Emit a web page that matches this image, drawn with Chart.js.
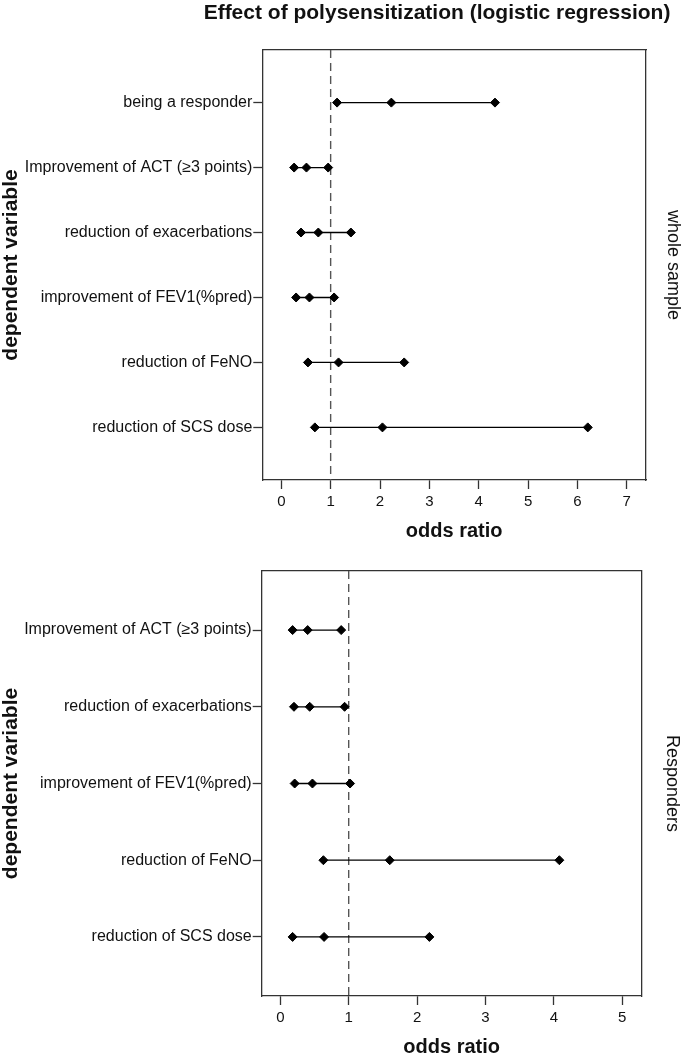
<!DOCTYPE html>
<html>
<head>
<meta charset="utf-8">
<script src="https://cdn.jsdelivr.net/npm/chart.js@4.4.1/dist/chart.umd.min.js"></script>
<style>
  body { margin: 0; background: #fff; overflow: hidden; }
  canvas { display: block; }
</style>
</head>
<body>
<canvas id="wholeChart" width="685" height="550"></canvas>
<canvas id="respChart" width="685" height="506"></canvas>
<script>
/* Effect of polysensitization - forest plots (odds ratio with 95% CI) */

// whole sample
const wholeLabels = [
    'being a responder',
    'Improvement of ACT (\u22653 points)',
    'reduction of exacerbations',
    'improvement of FEV1(%pred)',
    'reduction of FeNO',
    'reduction of SCS dose'
];
const wholeLower = [1.13, 0.26, 0.40, 0.30, 0.54, 0.68];
const wholeOR    = [2.23, 0.51, 0.75, 0.57, 1.16, 2.05];
const wholeUpper = [4.33, 0.95, 1.41, 1.07, 2.49, 6.21];
const wholeTicks = [0, 1, 2, 3, 4, 5, 6, 7];

// responders
const respLabels = [
    'Improvement of ACT (\u22653 points)',
    'reduction of exacerbations',
    'improvement of FEV1(%pred)',
    'reduction of FeNO',
    'reduction of SCS dose'
];
const respLower = [0.18, 0.20, 0.21, 0.63, 0.18];
const respOR    = [0.40, 0.43, 0.47, 1.60, 0.64];
const respUpper = [0.89, 0.94, 1.02, 4.08, 2.18];
const respTicks = [0, 1, 2, 3, 4, 5];

const FONT = "'Liberation Sans', Arial, sans-serif";
const INK = '#111';
const FRAME = '#333';

Chart.defaults.font.family = FONT;
Chart.defaults.color = INK;

// main heading, drawn on the top canvas
const headerPlugin = {
    id: 'header',
    afterDraw(chart, args, opts) {
        if (!opts.text) return;
        const ctx = chart.ctx;
        ctx.save();
        ctx.font = 'bold 21px ' + FONT;
        ctx.fillStyle = INK;
        ctx.textAlign = 'center';
        ctx.textBaseline = 'middle';
        ctx.fillText(opts.text, opts.x, opts.y);
        ctx.restore();
    }
};

/**
 * Draws one forest plot
 * @param {string} canvasId
 * @param {Object} cfg - data and frame geometry
 */
function drawForest(canvasId, cfg) {
    const ctx = document.getElementById(canvasId).getContext('2d');
    const n = cfg.labels.length;
    const yMin = -cfg.yPad;
    const yMax = n - 1 + cfg.yPad;
    const frameBorder = { display: true, color: FRAME, width: 1.3 };

    let datasets = cfg.labels.map((label, i) => ({
        label: label,
        data: [
            { x: cfg.lower[i], y: i },
            { x: cfg.or[i], y: i },
            { x: cfg.upper[i], y: i }
        ],
        showLine: true,
        borderColor: '#000',
        borderWidth: 1.3,
        pointStyle: 'rectRot',
        pointRadius: 4.5,
        pointBackgroundColor: '#000',
        pointBorderColor: '#000',
        pointBorderWidth: 1
    }));

    // reference line at OR = 1
    datasets.push({
        label: 'OR = 1',
        data: [{ x: 1, y: yMin }, { x: 1, y: yMax }],
        showLine: true,
        borderColor: '#555',
        borderWidth: 1.4,
        borderDash: [8, 5],
        pointRadius: 0
    });

    return new Chart(ctx, {
        type: 'scatter',
        data: { datasets },
        plugins: [headerPlugin],
        options: {
            responsive: false,
            animation: false,
            events: [],
            layout: { padding: { top: cfg.padTop, left: 0, right: 0, bottom: 0 } },
            plugins: {
                legend: { display: false },
                tooltip: { enabled: false },
                header: cfg.header || {}
            },
            scales: {
                x: {
                    type: 'linear',
                    min: cfg.xMin,
                    max: cfg.xMax,
                    afterBuildTicks: axis => { axis.ticks = cfg.ticks.map(v => ({ value: v })); },
                    afterFit: axis => { axis.height = cfg.bottomHeight; },
                    border: frameBorder,
                    grid: { drawOnChartArea: false, drawTicks: true, tickLength: 9, tickColor: FRAME, tickWidth: 1.3 },
                    ticks: { color: INK, font: { size: 15 }, padding: 3.5, maxRotation: 0, autoSkip: false },
                    title: {
                        display: true,
                        text: 'odds ratio',
                        color: INK,
                        font: { size: 20, weight: 'bold', lineHeight: cfg.xTitleLine },
                        padding: { top: 0, bottom: cfg.xTitlePad }
                    }
                },
                xTop: {
                    type: 'linear',
                    position: 'top',
                    min: cfg.xMin,
                    max: cfg.xMax,
                    afterFit: axis => { axis.height = 0; },
                    border: frameBorder,
                    grid: { drawOnChartArea: false, drawTicks: false },
                    ticks: { display: false }
                },
                y: {
                    type: 'linear',
                    reverse: true,
                    min: yMin,
                    max: yMax,
                    afterBuildTicks: axis => { axis.ticks = cfg.labels.map((_, i) => ({ value: i })); },
                    afterFit: axis => { axis.width = cfg.leftWidth; },
                    border: frameBorder,
                    grid: { drawOnChartArea: false, drawTicks: true, tickLength: 9, tickColor: FRAME, tickWidth: 1.3 },
                    ticks: {
                        color: INK,
                        font: { size: 16 },
                        padding: 1,
                        autoSkip: false,
                        callback: v => cfg.labels[v]
                    },
                    title: {
                        display: true,
                        text: 'dependent variable',
                        color: INK,
                        font: { size: 21, weight: 'bold', lineHeight: '20px' },
                        padding: { top: 1, bottom: 0 }
                    }
                },
                ySide: {
                    type: 'linear',
                    position: 'right',
                    reverse: true,
                    min: yMin,
                    max: yMax,
                    afterFit: axis => { axis.width = cfg.rightWidth; },
                    border: frameBorder,
                    grid: { drawOnChartArea: false, drawTicks: false },
                    ticks: { display: false },
                    title: {
                        display: true,
                        text: cfg.sideLabel,
                        color: INK,
                        font: { size: 18, lineHeight: '20px' },
                        padding: { top: cfg.sidePad, bottom: 0 }
                    }
                }
            }
        }
    });
}

drawForest('wholeChart', {
    labels: wholeLabels,
    lower: wholeLower,
    or: wholeOR,
    upper: wholeUpper,
    ticks: wholeTicks,
    xMin: -0.385,
    xMax: 7.39,
    yPad: 0.81,
    padTop: 50,
    leftWidth: 262.3,
    rightWidth: 39,
    bottomHeight: 70,
    xTitleLine: '20px',
    xTitlePad: 8.3,
    sideLabel: 'whole sample',
    sidePad: 2,
    header: { text: 'Effect of polysensitization (logistic regression)', x: 437, y: 13 }
});

drawForest('respChart', {
    labels: respLabels,
    lower: respLower,
    or: respOR,
    upper: respUpper,
    ticks: respTicks,
    xMin: -0.272,
    xMax: 5.284,
    yPad: 0.77,
    padTop: 21,
    leftWidth: 261.7,
    rightWidth: 43.3,
    bottomHeight: 60,
    xTitleLine: '18px',
    xTitlePad: 0,
    sideLabel: 'Responders',
    sidePad: 3.3
});
</script>
</body>
</html>
